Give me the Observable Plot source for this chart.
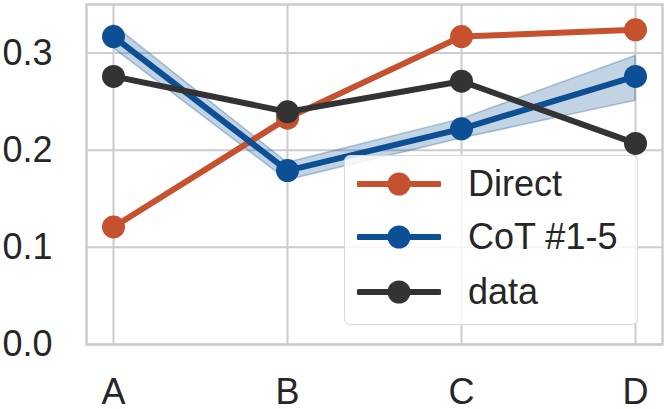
<!DOCTYPE html>
<html>
<head>
<meta charset="utf-8">
<script src="https://cdn.jsdelivr.net/npm/d3@7"></script>
<script src="https://cdn.jsdelivr.net/npm/@observablehq/plot@0.6"></script>
<style>
  html, body { margin: 0; padding: 0; background: white; }
  #wrap { position: relative; width: 664px; height: 409px; font-family: "Liberation Sans", Arial, sans-serif; }
  #legend {
    position: absolute; left: 344px; top: 155px; width: 294px; height: 170px;
    background: rgba(255,255,255,0.82); border: 1.5px solid #d9d9d9; border-radius: 6px;
    box-sizing: border-box;
  }
  .row { position: absolute; left: 0; height: 40px; display: flex; align-items: center; }
  .row svg { margin-left: 12px; }
  .row span { margin-left: 27px; font-size: 36px; color: #262626; line-height: 40px; }
</style>
</head>
<body>
<div id="wrap"><div id="chart"></div><div id="legend"></div></div>
<script>
const categories = ["A", "B", "C", "D"];
const seriesNames = ["Direct", "CoT #1-5", "data"];
const seriesColors = ["#c5512f", "#0c4f95", "#333333"];
const direct = [0.121, 0.233, 0.317, 0.324];
const cot = [0.317, 0.179, 0.222, 0.276];
const cotLow = [0.305, 0.169, 0.212, 0.251];
const cotHigh = [0.329, 0.187, 0.232, 0.297];
const dataSeries = [0.276, 0.2395, 0.271, 0.207];
const yTicks = [0, 0.1, 0.2, 0.3];

const seriesValues = [direct, cot, dataSeries];
const rows = [];
seriesNames.forEach((s, i) => categories.forEach((c, j) => rows.push({series: s, cat: c, value: seriesValues[i][j]})));
const band = categories.map((c, j) => ({cat: c, lo: cotLow[j], hi: cotHigh[j]}));

const marks = [
  Plot.gridX(categories, {stroke: "#cccccc", strokeOpacity: 1, strokeWidth: 2}),
  Plot.gridY(yTicks, {stroke: "#cccccc", strokeOpacity: 1, strokeWidth: 2}),
  Plot.frame({stroke: "#cccccc", strokeWidth: 2.5}),
  Plot.areaY(band, {x: "cat", y1: "lo", y2: "hi", fill: seriesColors[1], fillOpacity: 0.25,
                    stroke: seriesColors[1], strokeOpacity: 0.3, strokeWidth: 1.5})
];
seriesNames.forEach((s, i) => {
  const d = rows.filter(r => r.series === s);
  marks.push(Plot.line(d, {x: "cat", y: "value", stroke: seriesColors[i], strokeWidth: 6}));
  marks.push(Plot.dot(d, {x: "cat", y: "value", fill: seriesColors[i], r: 11.5}));
});
marks.push(Plot.axisX({tickSize: 0, tickPadding: 34, label: null}));
marks.push(Plot.axisY(yTicks, {tickSize: 0, tickPadding: 34, tickFormat: ".1f", label: null}));

const chart = Plot.plot({
  width: 664, height: 409,
  marginLeft: 86, marginRight: 2, marginTop: 4, marginBottom: 65,
  x: {type: "point", domain: categories, padding: 0.155, label: null},
  y: {domain: [0, 0.35], label: null},
  style: {fontFamily: "'Liberation Sans', Arial, sans-serif", fontSize: "36px", color: "#262626", background: "white"},
  marks
});
document.getElementById("chart").appendChild(chart);

const legend = document.getElementById("legend");
const rowTops = [8, 61, 116];
seriesNames.forEach((s, i) => {
  const row = document.createElement("div");
  row.className = "row";
  row.style.top = rowTops[i] + "px";
  row.innerHTML = `<svg width="84" height="30"><line x1="2" x2="82" y1="15" y2="15" stroke="${seriesColors[i]}" stroke-width="6" stroke-linecap="round"/><circle cx="42" cy="15" r="11.5" fill="${seriesColors[i]}"/></svg><span>${s}</span>`;
  legend.appendChild(row);
});
</script>
</body>
</html>
